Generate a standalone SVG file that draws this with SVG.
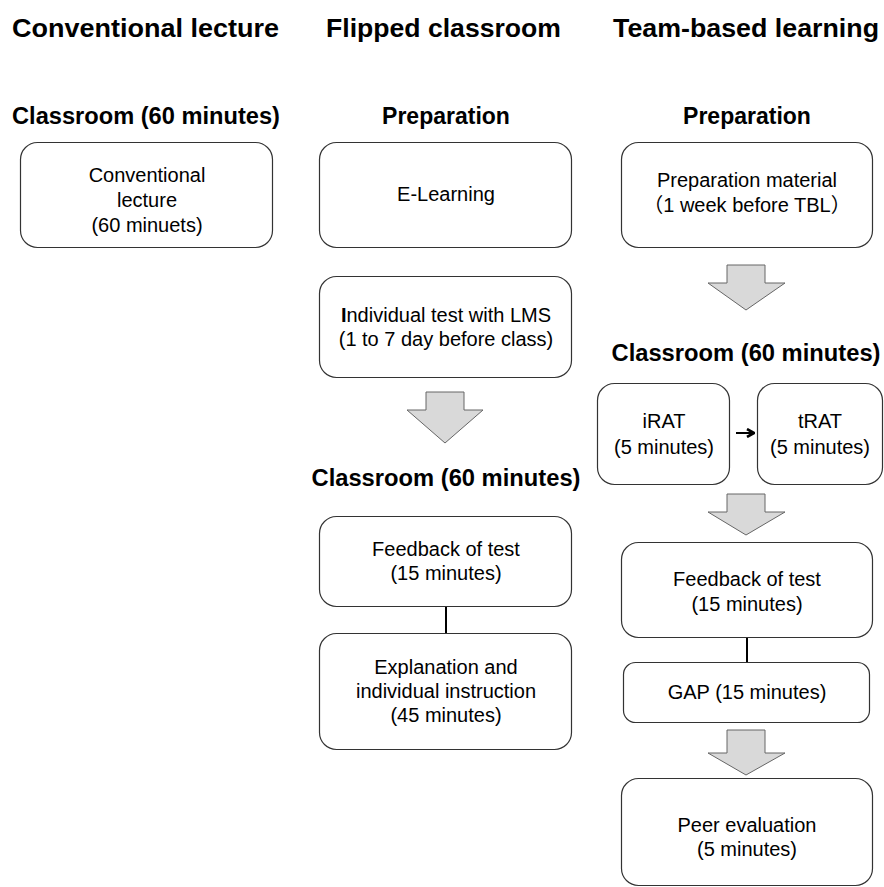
<svg xmlns="http://www.w3.org/2000/svg" width="884" height="887" viewBox="0 0 884 887">
<style>
.t1{font-family:"Liberation Sans",Arial,sans-serif;font-weight:bold;font-size:26px;fill:#000;text-anchor:start}
.t2{font-family:"Liberation Sans",Arial,sans-serif;font-weight:bold;font-size:23px;fill:#000;text-anchor:middle}
.b{font-family:"Liberation Sans","Noto Sans CJK JP",Arial,sans-serif;font-size:20px;fill:#000;text-anchor:middle}
.box{fill:#fff;stroke:#333;stroke-width:1.2}
.arr{fill:#d9d9d9;stroke:#666;stroke-width:1}
.con{stroke:#000;stroke-width:2;fill:none}
</style>
<defs>
<marker id="ah" viewBox="0 0 10 10" refX="9" refY="5" markerWidth="10" markerHeight="10" markerUnits="userSpaceOnUse" orient="auto">
<path d="M2,1 L9,5 L2,9" fill="none" stroke="#000" stroke-width="2.6"/>
</marker>
</defs>
<rect width="884" height="887" fill="#fff"/>

<g id="titles">
<text class="t1" x="12" y="37" textLength="267" lengthAdjust="spacingAndGlyphs">Conventional lecture</text>
<text class="t1" x="326" y="37" textLength="235" lengthAdjust="spacingAndGlyphs">Flipped classroom</text>
<text class="t1" x="613" y="37" textLength="266" lengthAdjust="spacingAndGlyphs">Team-based learning</text>
</g>

<g id="headings">
<text class="t2" x="146" y="124" textLength="268" lengthAdjust="spacingAndGlyphs">Classroom (60 minutes)</text>
<text class="t2" x="446" y="124">Preparation</text>
<text class="t2" x="747" y="124">Preparation</text>
<text class="t2" x="446" y="486" textLength="269" lengthAdjust="spacingAndGlyphs">Classroom (60 minutes)</text>
<text class="t2" x="746" y="361" textLength="269" lengthAdjust="spacingAndGlyphs">Classroom (60 minutes)</text>
</g>

<g id="n-conv">
<rect class="box" x="20.5" y="142.5" width="252" height="105" rx="17"/>
<text class="b" x="147" y="182">Conventional</text>
<text class="b" x="147" y="207">lecture</text>
<text class="b" x="147" y="232">(60 minuets)</text>
</g>

<g id="n-elearning">
<rect class="box" x="319.5" y="142.5" width="252" height="105" rx="17"/>
<text class="b" x="446" y="201">E-Learning</text>
</g>

<g id="n-indtest">
<rect class="box" x="319.5" y="276.5" width="252" height="101" rx="17"/>
<text class="b" x="446" y="322"><tspan font-weight="bold">I</tspan>ndividual test with LMS</text>
<text class="b" x="446" y="346">(1 to 7 day before class)</text>
</g>

<g id="n-fc-feedback">
<rect class="box" x="319.5" y="516.5" width="252" height="90" rx="17"/>
<text class="b" x="446" y="556">Feedback of test</text>
<text class="b" x="446" y="580">(15 minutes)</text>
</g>

<g id="n-explanation">
<rect class="box" x="319.5" y="633.5" width="252" height="116" rx="17"/>
<text class="b" x="446" y="674">Explanation and</text>
<text class="b" x="446" y="698">individual instruction</text>
<text class="b" x="446" y="722">(45 minutes)</text>
</g>

<g id="n-prepmat">
<rect class="box" x="621.5" y="142.5" width="251" height="105" rx="17"/>
<text class="b" x="747" y="187">Preparation material</text>
<text class="b" x="747" y="212">（1 week before TBL）</text>
</g>

<g id="n-irat">
<rect class="box" x="597.5" y="383.5" width="132" height="101" rx="17"/>
<text class="b" x="664" y="428">iRAT</text>
<text class="b" x="664" y="454">(5 minutes)</text>
</g>

<g id="n-trat">
<rect class="box" x="757.5" y="383.5" width="125" height="101" rx="17"/>
<text class="b" x="820" y="428">tRAT</text>
<text class="b" x="820" y="454">(5 minutes)</text>
</g>

<g id="n-tbl-feedback">
<rect class="box" x="621.5" y="542.5" width="251" height="95" rx="17"/>
<text class="b" x="747" y="586">Feedback of test</text>
<text class="b" x="747" y="611">(15 minutes)</text>
</g>

<g id="n-gap">
<rect class="box" x="623.5" y="662.5" width="246" height="60" rx="12"/>
<text class="b" x="747" y="699">GAP (15 minutes)</text>
</g>

<g id="n-peer">
<rect class="box" x="621.5" y="778.5" width="251" height="107" rx="17"/>
<text class="b" x="747" y="832">Peer evaluation</text>
<text class="b" x="747" y="856">(5 minutes)</text>
</g>

<g id="connectors">
<path class="arr" d="M426,392 H464 V410 H483 L445,443 L407,410 H426 Z"/>
<path class="arr" d="M727,265 H765 V283 H785 L746,310 L708,283 H727 Z"/>
<path class="arr" d="M727,494 H765 V512 H785 L746,535 L708,512 H727 Z"/>
<path class="arr" d="M727,730 H765 V753 H785 L746,775 L708,753 H727 Z"/>
<line class="con" x1="446" y1="607" x2="446" y2="633"/>
<line class="con" x1="747" y1="638" x2="747" y2="662"/>
<line class="con" x1="736" y1="433" x2="754" y2="433" stroke-width="3" marker-end="url(#ah)"/>
</g>
</svg>
